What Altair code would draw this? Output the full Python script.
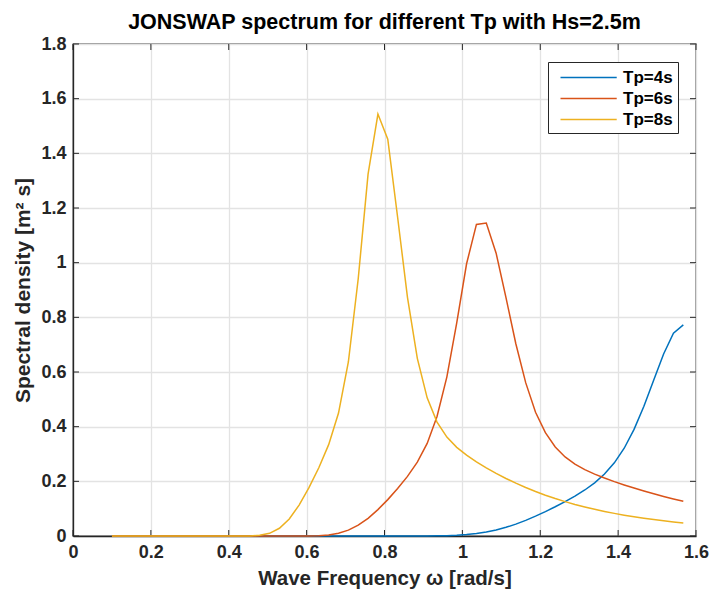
import altair as alt
import pandas as pd

# Wave frequency grid [rad/s]
omega = [0.1000, 0.1253, 0.1506, 0.1759, 0.2012, 0.2265, 0.2518, 0.2771, 0.3024, 0.3277,
         0.3530, 0.3783, 0.4036, 0.4289, 0.4542, 0.4795, 0.5048, 0.5301, 0.5554, 0.5807,
         0.6060, 0.6313, 0.6566, 0.6819, 0.7072, 0.7325, 0.7578, 0.7831, 0.8084, 0.8337,
         0.8590, 0.8843, 0.9096, 0.9349, 0.9602, 0.9855, 1.0108, 1.0361, 1.0614, 1.0867,
         1.1120, 1.1373, 1.1626, 1.1879, 1.2132, 1.2385, 1.2638, 1.2891, 1.3144, 1.3397,
         1.3650, 1.3903, 1.4156, 1.4409, 1.4662, 1.4915, 1.5168, 1.5421, 1.5674]

s_tp4 = [0, 0, 0, 0, 0, 0, 0, 0, 0, 0,
         0, 0, 0, 0, 0, 0, 0, 0, 0, 0,
         0, 0, 0, 0, 0, 0, 0, 0, 0, 0,
         0, 0, 0, 0.0005, 0.0012, 0.0026, 0.0051, 0.0089, 0.0145, 0.0220,
         0.0317, 0.0435, 0.0572, 0.0725, 0.0892, 0.1069, 0.1257, 0.1459, 0.1683, 0.1945,
         0.2266, 0.2676, 0.3211, 0.3900, 0.4748, 0.5710, 0.6660, 0.7420, 0.7722]

s_tp6 = [0, 0, 0, 0, 0, 0, 0, 0, 0, 0,
         0, 0, 0, 0, 0, 0, 0, 0, 0, 0,
         0.0003, 0.0012, 0.0039, 0.0100, 0.0214, 0.0395, 0.0648, 0.0965, 0.1331, 0.1736,
         0.2181, 0.2702, 0.3387, 0.4371, 0.5824, 0.7798, 0.9960, 1.1400, 1.1450, 1.0346,
         0.8718, 0.7035, 0.5611, 0.4527, 0.3780, 0.3256, 0.2892, 0.2630, 0.2430, 0.2265,
         0.2121, 0.1990, 0.1869, 0.1755, 0.1646, 0.1544, 0.1447, 0.1357, 0.1272]

s_tp8 = [0, 0, 0, 0, 0, 0, 0, 0, 0, 0,
         0, 0, 0, 0, 0.0004, 0.0024, 0.0098, 0.0283, 0.0624, 0.1130,
         0.1767, 0.2497, 0.3343, 0.4497, 0.6366, 0.9411, 1.3239, 1.5437, 1.4520, 1.1662,
         0.8731, 0.6499, 0.5053, 0.4169, 0.3617, 0.3244, 0.2957, 0.2714, 0.2494, 0.2292,
         0.2105, 0.1932, 0.1773, 0.1626, 0.1492, 0.1370, 0.1257, 0.1155, 0.1062, 0.0977,
         0.0899, 0.0828, 0.0763, 0.0704, 0.0651, 0.0601, 0.0556, 0.0515, 0.0477]

series_names = ["Tp=4s", "Tp=6s", "Tp=8s"]
series_colors = ["#0072BD", "#D95319", "#EDB120"]
x_ticks = [0, 0.2, 0.4, 0.6, 0.8, 1.0, 1.2, 1.4, 1.6]
y_ticks = [0, 0.2, 0.4, 0.6, 0.8, 1.0, 1.2, 1.4, 1.6, 1.8]

rows = []
for name, vals in zip(series_names, [s_tp4, s_tp6, s_tp8]):
    for w, s in zip(omega, vals):
        rows.append({"omega": w, "S": s, "series": name})
df = pd.DataFrame(rows)

W, H = 623, 492
FONT = "Liberation Sans"
AX = "#262626"
TL = 6

xscale = alt.Scale(domain=[0, 1.6], nice=False, zero=False)
yscale = alt.Scale(domain=[0, 1.8], nice=False)
xaxis = alt.Axis(values=x_ticks, format="~g", title="Wave Frequency ω [rad/s]",
                 labelFlush=False, labelOverlap=False, titlePadding=7, titleFontSize=20.5)
yaxis = alt.Axis(values=y_ticks, format="~g", title="Spectral density [m² s]",
                 labelFlush=False, labelOverlap=False, titlePadding=7)

lines = alt.Chart(df).mark_line(strokeWidth=1.5).encode(
    x=alt.X("omega:Q", scale=xscale, axis=xaxis),
    y=alt.Y("S:Q", scale=yscale, axis=yaxis),
    color=alt.Color("series:N", scale=alt.Scale(domain=series_names, range=series_colors),
                    legend=alt.Legend(title=None, orient="none", legendX=475, legendY=18,
                                      direction="vertical",
                                      symbolType="M -0.5 0 L 8.87 0", symbolSize=144,
                                      symbolStrokeWidth=1.5, symbolOffset=0, labelOffset=51.1,
                                      labelFont=FONT, labelFontSize=17, labelFontWeight="bold",
                                      labelColor="black", padding=7, rowPadding=3)),
)

# legend frame (white box with dark border behind the legend entries)
legend_box = alt.Chart(pd.DataFrame({"k": [0]})).mark_rect(
    fill="white", stroke=AX, strokeWidth=1).encode(
    x=alt.value(475.5), x2=alt.value(605.5), y=alt.value(18.5), y2=alt.value(89.5))

xt = pd.DataFrame({"v": x_ticks})
yt = pd.DataFrame({"v": y_ticks})
tick_bottom = alt.Chart(xt).mark_rule(color=AX, strokeWidth=1).encode(
    x=alt.X("v:Q", scale=xscale, axis=xaxis), y=alt.value(H), y2=alt.value(H - TL))
tick_top = alt.Chart(xt).mark_rule(color=AX, strokeWidth=1).encode(
    x=alt.X("v:Q", scale=xscale, axis=xaxis), y=alt.value(0), y2=alt.value(TL))
tick_left = alt.Chart(yt).mark_rule(color=AX, strokeWidth=1).encode(
    y=alt.Y("v:Q", scale=yscale, axis=yaxis), x=alt.value(0), x2=alt.value(TL))
tick_right = alt.Chart(yt).mark_rule(color=AX, strokeWidth=1).encode(
    y=alt.Y("v:Q", scale=yscale, axis=yaxis), x=alt.value(W), x2=alt.value(W - TL))

chart = alt.layer(tick_bottom, tick_top, tick_left, tick_right, lines, legend_box).properties(
    width=W, height=H,
    title=alt.TitleParams("JONSWAP spectrum for different Tp with Hs=2.5m", font=FONT,
                          fontSize=21.5, fontWeight="bold", color="black", anchor="middle",
                          frame="group", offset=13, dy=28, baseline="alphabetic"),
    autosize=alt.AutoSizeParams(type="none"),
    padding={"left": 73, "top": 44, "right": 15, "bottom": 56},
    background="white",
).configure_view(stroke=AX, strokeWidth=1.3).configure_axis(
    domainColor=AX, domainWidth=1.3, gridColor="#e3e3e3", gridWidth=1.3,
    ticks=False, tickSize=0,
    labelFont=FONT, labelFontSize=18, labelFontWeight="bold", labelColor="#262626",
    labelPadding=7,
    titleFont=FONT, titleFontSize=21, titleFontWeight="bold", titleColor="#262626",
)

chart.save("out.html", embed_options={"renderer": "svg", "actions": False})
